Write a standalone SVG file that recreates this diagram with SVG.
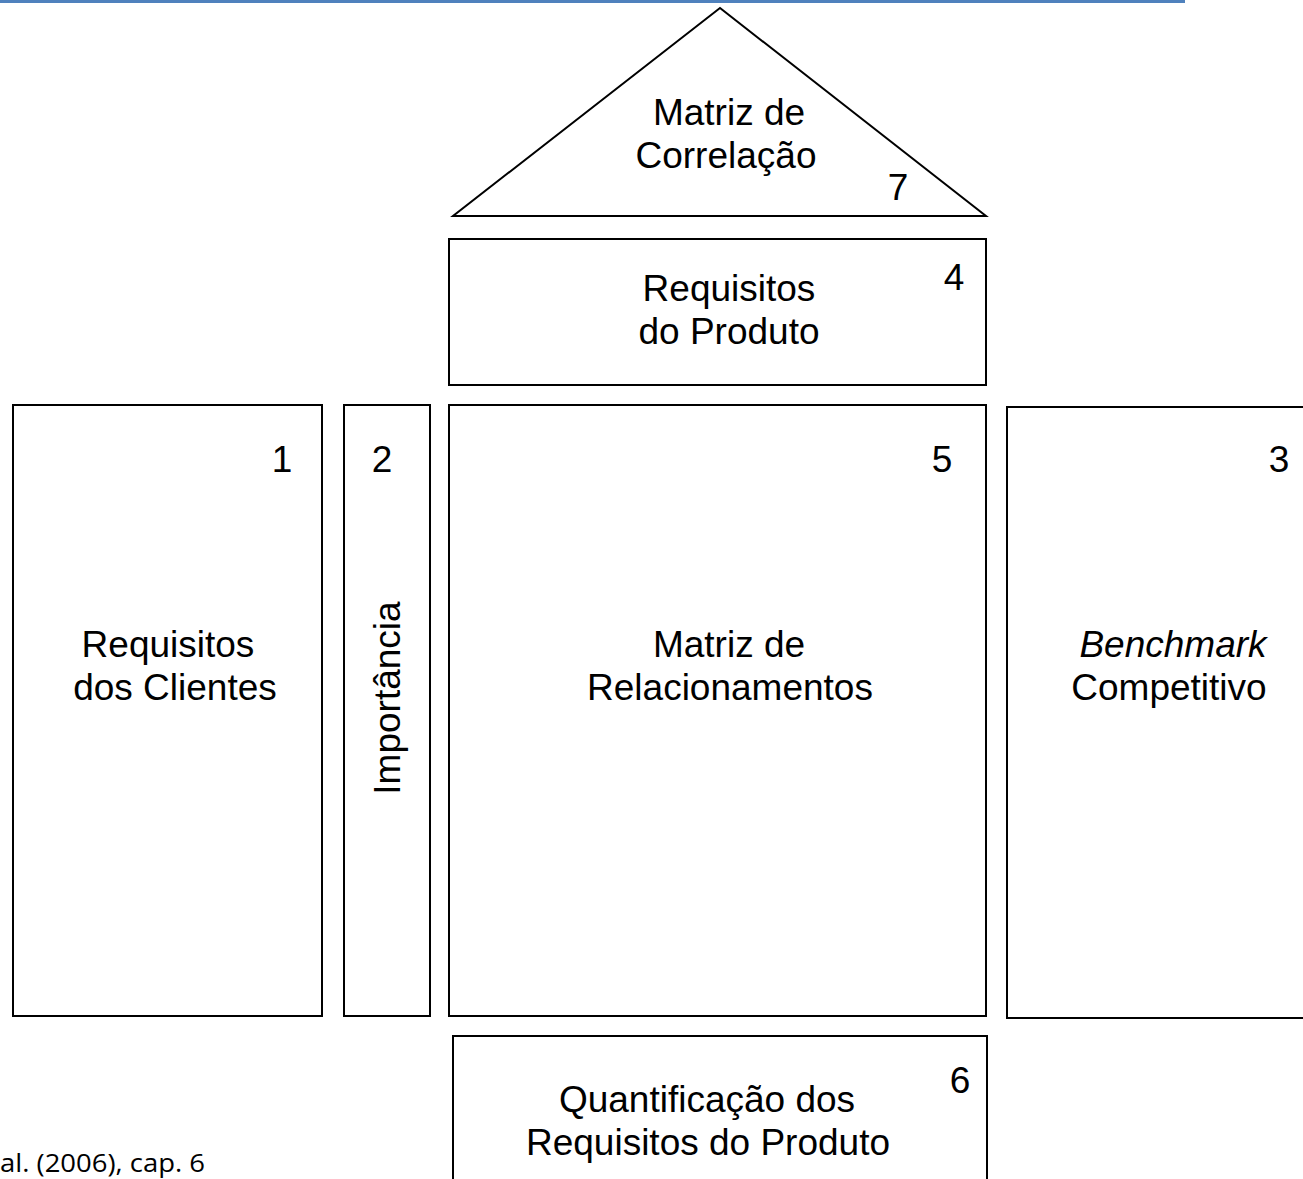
<svg xmlns="http://www.w3.org/2000/svg" width="1303" height="1179" viewBox="0 0 1303 1179">
<style>
.box{fill:#fff;stroke:#000;stroke-width:2}
.t{font-family:"Liberation Sans",Arial,sans-serif;font-size:37px;fill:#000;text-anchor:middle}
.n{font-family:"Liberation Sans",Arial,sans-serif;font-size:37px;fill:#000;text-anchor:middle}
.it{font-style:italic}
.foot{font-family:"Open Sans","Liberation Sans",sans-serif;font-size:25px;fill:#000}
</style>
<rect width="1303" height="1179" fill="#fff"/>
<line x1="0" y1="1.5" x2="1185" y2="1.5" stroke="#4F81BD" stroke-width="3"/>
<g id="node7">
<polygon class="box" points="720,8 453,216 986,216"/>
<text class="t" x="729" y="125">Matriz de</text>
<text class="t" x="726" y="168">Correlação</text>
<text class="n" x="898" y="200">7</text>
</g>
<g id="node4">
<rect class="box" x="449" y="239" width="537" height="146"/>
<text class="t" x="729" y="301">Requisitos</text>
<text class="t" x="729" y="344">do Produto</text>
<text class="n" x="954" y="290">4</text>
</g>
<g id="node1">
<rect class="box" x="13" y="405" width="309" height="611"/>
<text class="t" x="168" y="657">Requisitos</text>
<text class="t" x="175" y="700">dos Clientes</text>
<text class="n" x="282" y="472">1</text>
</g>
<g id="node2">
<rect class="box" x="344" y="405" width="86" height="611"/>
<text class="t" transform="translate(400,698) rotate(-90)" x="0" y="0">Importância</text>
<text class="n" x="382" y="472">2</text>
</g>
<g id="node5">
<rect class="box" x="449" y="405" width="537" height="611"/>
<text class="t" x="729" y="657">Matriz de</text>
<text class="t" x="730" y="700">Relacionamentos</text>
<text class="n" x="942" y="472">5</text>
</g>
<g id="node3">
<rect class="box" x="1007" y="407" width="310" height="611"/>
<text class="t it" x="1173" y="657">Benchmark</text>
<text class="t" x="1169" y="700">Competitivo</text>
<text class="n" x="1279" y="472">3</text>
</g>
<g id="node6">
<rect class="box" x="453" y="1036" width="534" height="160"/>
<text class="t" x="707" y="1112">Quantificação dos</text>
<text class="t" x="708" y="1155">Requisitos do Produto</text>
<text class="n" x="960" y="1093">6</text>
</g>
<g id="connectors"></g>
<text class="foot" x="0" y="1172" textLength="205" lengthAdjust="spacingAndGlyphs">al. (2006), cap. 6</text>
</svg>
